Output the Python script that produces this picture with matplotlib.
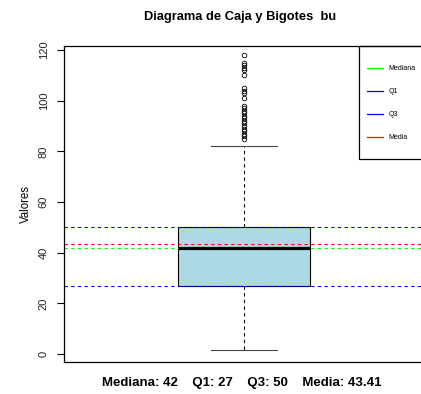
import matplotlib.pyplot as plt
from matplotlib.patches import Rectangle

plt.rcParams['font.family'] = ['Liberation Sans', 'DejaVu Sans']

# Resumen de la variable bu
mediana = 42
q1 = 27
q3 = 50
media = 43.41
bigote_inf = 1.4
bigote_sup = 82
atipicos = [118, 115, 114, 113, 112, 110, 105, 104, 103, 101, 98, 97, 96,
            95, 94, 93, 92, 91, 90, 89, 88, 87, 86, 85]

leyenda_nombres = ['Mediana', 'Q1', 'Q3', 'Media']
leyenda_colores = ['#00ff00', 'blue', 'blue', 'red']

W, H = 421, 394
fig = plt.figure(figsize=(W / 100, H / 100), dpi=100)

# plot region in pixels (right edge runs past the figure, like the original)
left, right, top, bottom = 64, 432, 45.5, 362
ax = fig.add_axes([left / W, (H - bottom) / H, (right - left) / W, (bottom - top) / H])

stats = [dict(med=mediana, q1=q1, q3=q3, whislo=bigote_inf, whishi=bigote_sup,
              fliers=atipicos, label='')]
ax.bxp(stats, positions=[1], widths=0.8, patch_artist=True,
       boxprops=dict(facecolor='#add8e6', edgecolor='black', linewidth=0.8),
       medianprops=dict(color='black', linewidth=2.3),
       whiskerprops=dict(color='black', linewidth=0.8, linestyle=(0, (3, 3))),
       capprops=dict(color='#444444', linewidth=0.8),
       capwidths=0.4,
       flierprops=dict(marker='o', markersize=3.3, markerfacecolor='none',
                       markeredgecolor='black', markeredgewidth=0.6))

# lineas de referencia
ax.axhline(mediana, color='#00ff00', lw=0.8, ls=(0, (3, 3)))
ax.axhline(q1, color='blue', lw=0.8, ls=(0, (3, 3)))
ax.axhline(q3, color='blue', lw=0.8, ls=(0, (3, 3)))
ax.axhline(media, color='red', lw=0.8, ls=(0, (3, 3)))

px = 165.0  # pixels per x unit
ax.set_xlim(1 - (243.5 - left) / px, 1 + (right - 243.5) / px)
ppy = (354 - 50) / 120.0
ax.set_ylim(-(bottom - 354) / ppy, (354 - top) / ppy)

ax.set_xticks([])
ax.set_yticks([0, 20, 40, 60, 80, 100, 120])
ax.set_yticklabels(['0', '20', '40', '60', '80', '100', '120'], rotation=90,
                   va='center', fontsize=8, color='#222222')
ax.tick_params(axis='y', length=5, width=0.8, pad=6)
for s in ax.spines.values():
    s.set_linewidth(0.9)
ax.set_ylabel('Valores', fontsize=8.3, labelpad=5)

# leyenda
handles = [plt.Line2D([], [], color=c, lw=0.9) for c in leyenda_colores]
fig.legend(handles, leyenda_nombres, loc='center left',
           bbox_to_anchor=(364 / W, (H - 103) / H), frameon=False,
           fontsize=5, labelspacing=2.3, handlelength=2.2,
           handletextpad=0.8, borderpad=0)
fig.add_artist(Rectangle((359 / W, (H - 159) / H), 80 / W, 113 / H,
                         transform=fig.transFigure, fill=False,
                         edgecolor='black', lw=0.9))

fig.text(240 / W, 1 - 17 / H, 'Diagrama de Caja y Bigotes  bu',
         ha='center', va='center', fontsize=9.3, fontweight='bold')
fig.text(242 / W, 1 - 383 / H,
         f'Mediana: {mediana}    Q1: {q1}    Q3: {q3}    Media: {media}',
         ha='center', va='center', fontsize=9.5, fontweight='bold')

fig.savefig('out.png', dpi=100)
